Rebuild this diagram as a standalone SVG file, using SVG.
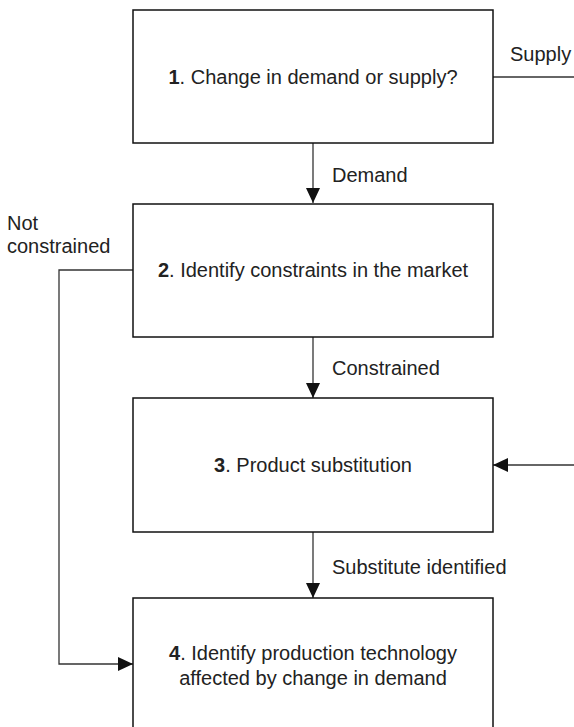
<svg xmlns="http://www.w3.org/2000/svg" width="574" height="727" viewBox="0 0 574 727">
<style>
.box{fill:#fff;stroke:#111;stroke-width:1.5}
.t{font-family:"Liberation Sans",Arial,sans-serif;font-size:20px;fill:#222}
.c{text-anchor:middle}
.ln{fill:none;stroke:#333;stroke-width:1.3}
</style>
<defs>
<marker id="ah" markerWidth="15" markerHeight="14" refX="15" refY="7" orient="auto" markerUnits="userSpaceOnUse">
<path d="M0,0 L15,7 L0,14 Z" fill="#111"/>
</marker>
</defs>
<rect width="574" height="727" fill="#fff"/>
<g id="connectors">
<path class="ln" d="M493,77 H574"/>
<path class="ln" d="M313,143 V203" marker-end="url(#ah)"/>
<path class="ln" d="M313,337 V398" marker-end="url(#ah)"/>
<path class="ln" d="M313,532 V598" marker-end="url(#ah)"/>
<path class="ln" d="M133,270 H59 V664 H133" marker-end="url(#ah)"/>
<path class="ln" d="M574,465 H493" marker-end="url(#ah)"/>
<text class="t" x="510" y="61">Supply</text>
<text class="t" x="332" y="182">Demand</text>
<text class="t" x="7" y="230">Not</text>
<text class="t" x="7" y="253">constrained</text>
<text class="t" x="332" y="375">Constrained</text>
<text class="t" x="332" y="574">Substitute identified</text>
</g>
<g id="n1">
<rect class="box" x="133" y="10" width="360" height="133"/>
<text class="t c" x="313" y="84"><tspan font-weight="bold">1</tspan>. Change in demand or supply?</text>
</g>
<g id="n2">
<rect class="box" x="133" y="204" width="360" height="133"/>
<text class="t c" x="313" y="277"><tspan font-weight="bold">2</tspan>. Identify constraints in the market</text>
</g>
<g id="n3">
<rect class="box" x="133" y="398" width="360" height="134"/>
<text class="t c" x="313" y="472"><tspan font-weight="bold">3</tspan>. Product substitution</text>
</g>
<g id="n4">
<rect class="box" x="133" y="598" width="360" height="140"/>
<text class="t c" x="313" y="660"><tspan font-weight="bold">4</tspan>. Identify production technology</text>
<text class="t c" x="313" y="685">affected by change in demand</text>
</g>
</svg>
